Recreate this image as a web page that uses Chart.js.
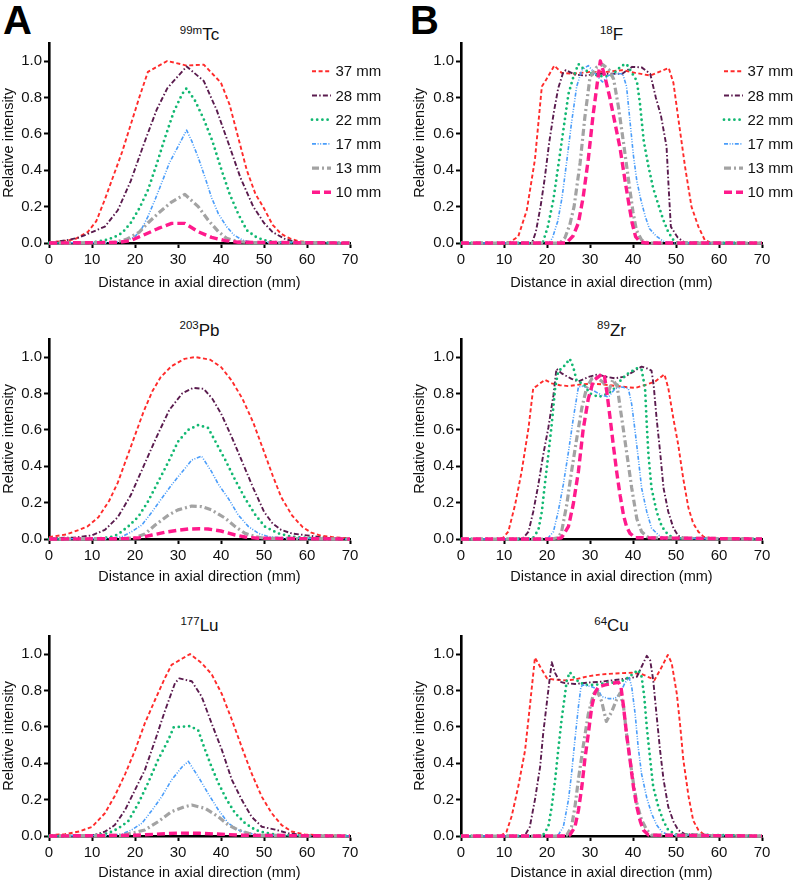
<!DOCTYPE html>
<html>
<head>
<meta charset="utf-8">
<script src="https://cdn.jsdelivr.net/npm/chart.js@4.4.1/dist/chart.umd.min.js"></script>
<style>
  body { margin: 0; background: #fff; width: 796px; height: 884px; position: relative; overflow: hidden;
         font-family: "Liberation Sans", Arial, Helvetica, sans-serif; color: #111; }
  canvas { position: absolute; }
  .letter { position: absolute; font-weight: bold; font-size: 40px; line-height: 1; color: #000; }
  .ttl { position: absolute; font-size: 17px; line-height: 17px; text-align: center; width: 301px; white-space: nowrap; }
  .ttl sup { font-size: 11.5px; line-height: 0; vertical-align: baseline; position: relative; top: -6.5px; }
</style>
</head>
<body>
<div class="letter" style="left:3px;top:0px">A</div>
<div class="letter" style="left:410px;top:0px">B</div>
<div class="ttl" style="left:49px;top:26px"><sup>99m</sup>Tc</div>
<div class="ttl" style="left:461px;top:26px"><sup>18</sup>F</div>
<div class="ttl" style="left:49px;top:321.5px"><sup>203</sup>Pb</div>
<div class="ttl" style="left:461px;top:321.5px"><sup>89</sup>Zr</div>
<div class="ttl" style="left:49px;top:617px"><sup>177</sup>Lu</div>
<div class="ttl" style="left:461px;top:617px"><sup>64</sup>Cu</div>

<canvas id="cTc" width="396" height="290" style="left:0;top:0"></canvas>
<canvas id="cF" width="400" height="290" style="left:396px;top:0"></canvas>
<canvas id="cPb" width="396" height="295" style="left:0;top:290px"></canvas>
<canvas id="cZr" width="400" height="295" style="left:396px;top:290px"></canvas>
<canvas id="cLu" width="396" height="299" style="left:0;top:585px"></canvas>
<canvas id="cCu" width="400" height="299" style="left:396px;top:585px"></canvas>

<script>
// axis ranges and labels
const xMin = 0, xMax = 70, xStep = 10;
const yMin = 0, yMax = 1.1, yStep = 0.2;
const sizeLabels = ['37 mm', '28 mm', '22 mm', '17 mm', '13 mm', '10 mm'];
const xTitle = 'Distance in axial direction (mm)';
const yTitle = 'Relative intensity';

// 99mTc  [distance, intensity]
const tc37 = [[0,0.003],[3,0.01],[6,0.02],[9,0.06],[11,0.12],[13,0.24],[15,0.37],[17,0.5],[19,0.65],[21,0.8],[23,0.94],[27.5,1.0],[32,0.975],[36,0.98],[40,0.88],[42,0.76],[44,0.58],[46,0.4],[48,0.27],[50,0.19],[52,0.1],[54,0.05],[56,0.025],[58,0.01],[60,0.005],[63,0.002],[70,0]];
const tc28 = [[0,0],[4,0.015],[7,0.03],[10,0.06],[13,0.09],[16,0.18],[19,0.34],[22,0.54],[25,0.73],[27.5,0.85],[32,0.97],[36,0.89],[39,0.73],[42,0.53],[44.5,0.36],[47.5,0.2],[50,0.11],[52,0.06],[55,0.02],[58,0.005],[70,0]];
const tc22 = [[0,0],[10,0.003],[13,0.015],[15,0.03],[17,0.055],[19,0.11],[21,0.19],[23,0.29],[25,0.43],[27,0.58],[29,0.72],[31,0.82],[32,0.85],[34,0.78],[36,0.68],[38,0.56],[40,0.41],[42,0.27],[44,0.16],[46,0.07],[48,0.035],[50,0.015],[53,0.004],[70,0]];
const tc17 = [[0,0],[15,0.003],[18,0.013],[20,0.035],[21.6,0.08],[23,0.145],[24.7,0.24],[26.2,0.33],[28,0.44],[30,0.53],[32,0.62],[33.2,0.56],[34.7,0.47],[36.3,0.36],[37.8,0.25],[39.4,0.16],[41.3,0.09],[43,0.044],[45,0.016],[47,0.005],[70,0]];
const tc13 = [[0,0],[15,0.003],[18,0.02],[21,0.06],[23,0.11],[25.5,0.165],[28.5,0.225],[31.6,0.267],[34.7,0.2],[37,0.126],[39.4,0.062],[41.3,0.026],[44,0.007],[47,0.002],[70,0]];
const tc10 = [[0,0],[16,0.003],[19,0.013],[22,0.044],[25.4,0.08],[28.5,0.108],[31.6,0.108],[34.7,0.062],[37.8,0.031],[41,0.013],[44,0.004],[70,0]];

// 203Pb
const pb37 = [[0,0.01],[4,0.025],[7,0.05],[9,0.07],[11.5,0.12],[14,0.21],[16,0.31],[18,0.44],[20,0.57],[22,0.7],[24,0.81],[26,0.89],[28.5,0.95],[31.5,0.99],[34,1.0],[37.5,0.985],[40,0.945],[42.5,0.87],[45,0.77],[47.5,0.64],[50,0.48],[52,0.35],[54,0.23],[56.5,0.13],[59,0.065],[61,0.035],[63,0.02],[66,0.01],[70,0.003]];
const pb28 = [[0,0.004],[6,0.008],[10,0.02],[13,0.05],[16,0.12],[19,0.24],[22,0.4],[25,0.56],[28,0.71],[31,0.8],[33.5,0.83],[36,0.825],[38,0.77],[40,0.69],[42.5,0.56],[45,0.42],[47.5,0.28],[50,0.15],[52,0.085],[54,0.05],[56.5,0.03],[60,0.02],[63,0.01],[66,0.004],[70,0]];
const pb22 = [[0,0],[10,0.002],[14,0.008],[16,0.025],[18.4,0.068],[20.8,0.123],[23,0.205],[25.4,0.315],[27.8,0.425],[30,0.535],[32.4,0.6],[34.7,0.626],[37,0.61],[38.6,0.54],[41,0.434],[43.3,0.324],[45.6,0.223],[48,0.132],[50.2,0.068],[53.3,0.031],[56.4,0.013],[60,0.006],[64,0.003],[70,0]];
const pb17 = [[0,0],[14,0.003],[17,0.013],[19.2,0.04],[21.6,0.077],[24,0.15],[26.2,0.223],[28.5,0.297],[31,0.37],[33.2,0.434],[35.5,0.455],[37.8,0.37],[39.4,0.3],[41.7,0.223],[44,0.132],[46.4,0.068],[48.7,0.031],[51,0.013],[55,0.004],[70,0]];
const pb13 = [[0,0],[18,0.003],[20,0.007],[22.3,0.027],[24.7,0.077],[27.8,0.132],[30,0.16],[33.2,0.181],[35.5,0.178],[37.8,0.16],[41,0.114],[43.3,0.068],[45.6,0.031],[48,0.013],[50.2,0.004],[70,0]];
const pb10 = [[0,0],[18,0.002],[21,0.007],[24,0.022],[27,0.037],[30,0.048],[32.4,0.055],[35,0.056],[37,0.055],[40,0.044],[43.3,0.022],[45.6,0.011],[48.7,0.004],[70,0]];

// 177Lu
const lu37 = [[0,0.004],[3.7,0.01],[7,0.025],[10,0.05],[13,0.125],[15.3,0.22],[17.7,0.34],[20,0.47],[22.3,0.62],[24.7,0.75],[27,0.87],[28.5,0.94],[31,0.975],[32.8,1.0],[35.5,0.95],[37.8,0.89],[40.2,0.78],[42.5,0.64],[44.8,0.49],[47.1,0.345],[49.5,0.215],[51.8,0.125],[54.1,0.06],[56.4,0.025],[59.5,0.008],[63,0.005],[70,0]];
const lu28 = [[0,0],[7,0.003],[10.7,0.006],[13,0.024],[15.3,0.06],[17.7,0.143],[20,0.253],[22.3,0.363],[24.7,0.527],[27,0.69],[29.3,0.84],[30.3,0.866],[33.2,0.85],[35.5,0.766],[37.8,0.62],[40.2,0.473],[42.5,0.31],[44.8,0.2],[47.1,0.106],[49.5,0.051],[52.6,0.035],[55.7,0.015],[59.5,0.004],[70,0]];
const lu22 = [[0,0],[10,0.002],[13.8,0.015],[16,0.04],[18.4,0.08],[20.8,0.18],[23,0.29],[25.4,0.42],[27.8,0.53],[29,0.597],[32.8,0.604],[34.7,0.58],[36.3,0.473],[37.8,0.38],[39.4,0.29],[41.3,0.2],[43.3,0.125],[45.6,0.07],[48,0.033],[50.2,0.018],[53.3,0.005],[70,0]];
const lu17 = [[0,0],[14,0.003],[17,0.011],[19.2,0.033],[21.6,0.07],[24,0.143],[26.2,0.216],[28.5,0.308],[31,0.381],[32.4,0.41],[34.7,0.326],[37,0.234],[39.4,0.143],[41.7,0.07],[44,0.033],[46.4,0.015],[49.5,0.004],[70,0]];
const lu13 = [[0,0],[17,0.004],[19.2,0.015],[22.3,0.033],[25.4,0.079],[28.5,0.134],[31.6,0.161],[33.2,0.17],[36.3,0.152],[39.4,0.106],[41.7,0.06],[44,0.033],[46.4,0.015],[48.7,0.004],[70,0]];
const lu10 = [[0,0],[20,0.004],[25,0.01],[30,0.016],[35,0.015],[40,0.01],[45,0.004],[70,0]];

// 18F
const f37 = [[0,0],[10,0],[11.4,0.005],[13.3,0.035],[15.3,0.18],[17.2,0.46],[18.8,0.86],[19.5,0.885],[21.7,0.975],[23.4,0.935],[26,0.93],[30,0.94],[34,0.94],[37.5,0.95],[40.5,0.935],[44,0.92],[48.3,0.962],[49.4,0.88],[50.5,0.69],[52.1,0.42],[53.6,0.2],[55.2,0.09],[56.7,0.016],[58.3,0],[70,0]];
const f28 = [[0,0],[16.5,0],[17.4,0.06],[18.5,0.2],[19.5,0.36],[20.5,0.55],[21.6,0.72],[22.6,0.85],[23.8,0.94],[24.4,0.95],[26.5,0.925],[29,0.92],[32,0.93],[35,0.93],[37.5,0.93],[39.8,0.968],[42,0.965],[44,0.93],[45.3,0.8],[46.5,0.7],[47.8,0.53],[48.3,0.3],[48.8,0.09],[50.4,0.03],[52,0.003],[70,0]];
const f22 = [[0,0],[19,0],[20.2,0.09],[21.5,0.24],[22.6,0.42],[23.8,0.62],[25,0.82],[26.1,0.91],[27.3,0.983],[28.8,0.95],[31,0.925],[33,0.915],[35,0.92],[37.4,0.975],[38.5,0.983],[40.9,0.89],[41.6,0.77],[42.5,0.56],[43.6,0.42],[44.7,0.3],[45.9,0.21],[47,0.13],[48.2,0.06],[49.4,0.016],[50.5,0],[70,0]];
const f17 = [[0,0],[20.5,0],[21.3,0.03],[22.5,0.12],[23.5,0.25],[24.6,0.45],[25.7,0.66],[26.9,0.86],[28.1,0.95],[29.6,0.975],[31.2,0.93],[32.9,0.885],[34.3,0.92],[36,0.93],[37.6,0.93],[38.5,0.86],[39.3,0.67],[40.1,0.48],[40.9,0.34],[41.8,0.24],[42.8,0.15],[43.8,0.08],[45.3,0.04],[47,0.01],[49,0],[70,0]];
const f13 = [[0,0],[23,0],[24.2,0.03],[25.3,0.1],[26.3,0.2],[27.7,0.44],[28.8,0.69],[30,0.91],[31.5,0.965],[33,0.98],[34.5,0.95],[35.5,0.9],[36.6,0.75],[37.8,0.55],[39,0.34],[40,0.17],[40.8,0.07],[42,0.016],[43.6,0],[70,0]];
const f10 = [[0,0],[24.5,0],[26.1,0.04],[27.3,0.11],[28.4,0.25],[29.6,0.46],[30.7,0.7],[31.7,0.88],[32.4,1.0],[33.4,0.92],[34.6,0.8],[35.8,0.66],[37,0.52],[38.1,0.35],[39,0.22],[39.8,0.11],[40.6,0.035],[41.6,0.007],[43,0],[70,0]];

// 89Zr
const zr37 = [[0,0],[8,0],[9.8,0.007],[11,0.04],[12.6,0.19],[14.1,0.37],[15.7,0.61],[16.8,0.83],[17.6,0.84],[19.5,0.875],[21.1,0.855],[23,0.845],[25,0.84],[28,0.85],[31.2,0.853],[34.3,0.846],[37.4,0.837],[40.5,0.83],[42.8,0.846],[45.1,0.864],[47.3,0.905],[48.2,0.83],[49.4,0.66],[50.5,0.52],[51.7,0.33],[52.9,0.17],[54,0.086],[55.2,0.04],[56.4,0.013],[58.3,0.004],[70,0]];
const zr28 = [[0,0],[13,0],[14.5,0.007],[15.7,0.04],[16.8,0.15],[18,0.3],[19.1,0.46],[20.3,0.61],[21.5,0.79],[22.2,0.935],[23.4,0.91],[25.7,0.88],[27.3,0.865],[29.6,0.89],[31.9,0.905],[33.5,0.892],[35.8,0.883],[38.1,0.892],[40.1,0.92],[42,0.947],[43.2,0.938],[44.3,0.925],[44.8,0.846],[45.5,0.66],[46.3,0.48],[47.1,0.28],[48.2,0.15],[49.4,0.06],[50.5,0.018],[52.1,0.004],[70,0]];
const zr22 = [[0,0],[15,0],[16.8,0.007],[18,0.05],[18.8,0.15],[19.5,0.3],[20.3,0.46],[21.1,0.63],[21.9,0.83],[22.6,0.92],[24.2,0.955],[25.3,0.99],[26.1,0.945],[26.9,0.87],[28.5,0.85],[30,0.8],[32,0.78],[34.3,0.8],[35.8,0.83],[37.4,0.88],[38.9,0.91],[40.9,0.938],[42,0.93],[42.8,0.83],[43.2,0.63],[43.6,0.46],[44.3,0.28],[45.5,0.15],[46.7,0.068],[48.2,0.022],[49.8,0.004],[70,0]];
const zr17 = [[0,0],[19,0],[20.3,0.007],[21.5,0.04],[22.6,0.15],[23.8,0.3],[25,0.48],[26.1,0.66],[27.3,0.835],[28.1,0.84],[29.6,0.83],[31.2,0.81],[32.7,0.79],[34.3,0.78],[35.8,0.825],[37.4,0.835],[38.9,0.828],[39.7,0.74],[40.5,0.59],[41.3,0.43],[42,0.28],[43.2,0.15],[44.3,0.06],[45.9,0.022],[47.4,0.004],[70,0]];
const zr13 = [[0,0],[21,0],[22.6,0.007],[23.4,0.04],[24.6,0.19],[25.7,0.37],[26.9,0.55],[28.1,0.72],[29.2,0.83],[30.4,0.88],[31.5,0.89],[33.1,0.86],[34.3,0.81],[35.3,0.875],[36.3,0.84],[37.4,0.66],[38.5,0.48],[39.7,0.28],[40.9,0.11],[42,0.04],[43.6,0.007],[70,0]];
const zr10 = [[0,0],[22,0],[23.4,0.007],[25,0.07],[26.1,0.19],[27.3,0.37],[28.4,0.6],[29.6,0.77],[30.8,0.87],[32.7,0.905],[33.3,0.905],[33.9,0.81],[34.7,0.66],[35.4,0.52],[36.2,0.37],[37,0.24],[37.8,0.13],[38.5,0.068],[39.3,0.031],[40.5,0.007],[70,0]];

// 64Cu
const cu37 = [[0,0],[9,0],[9.5,0.005],[10.6,0.024],[11.8,0.11],[13.3,0.27],[14.9,0.47],[16,0.71],[17.2,0.98],[18.4,0.93],[20,0.866],[21.5,0.86],[24.2,0.855],[26.5,0.86],[29.6,0.878],[32.7,0.888],[35.8,0.893],[39.7,0.897],[42,0.89],[44.3,0.866],[45,0.857],[46.7,0.93],[48.1,0.995],[49,0.95],[50.2,0.78],[51,0.6],[51.7,0.42],[52.9,0.22],[54,0.085],[55.2,0.033],[56.7,0.005],[70,0]];
const cu28 = [[0,0],[14,0],[14.9,0.005],[16,0.05],[17.2,0.2],[18.4,0.38],[19.1,0.56],[20.2,0.78],[21.1,0.955],[21.9,0.895],[23,0.848],[24.2,0.84],[26.5,0.835],[29.6,0.843],[32.7,0.848],[35.8,0.857],[38.9,0.866],[40.9,0.875],[42,0.93],[43.2,0.99],[44,0.965],[44.7,0.857],[45.5,0.66],[46.3,0.47],[47.1,0.31],[48.2,0.16],[49.4,0.08],[50.5,0.033],[52.1,0.009],[70,0]];
const cu22 = [[0,0],[18,0],[19.1,0.005],[20.3,0.05],[21.1,0.16],[21.9,0.31],[22.6,0.47],[23.4,0.64],[24.2,0.78],[24.6,0.855],[25.3,0.9],[26.1,0.875],[27.3,0.848],[28.8,0.83],[31.2,0.83],[33.5,0.84],[35.8,0.843],[38.1,0.857],[39.7,0.885],[41.2,0.912],[42,0.875],[42.6,0.77],[43.2,0.6],[44,0.42],[44.7,0.27],[45.9,0.16],[47.1,0.08],[48.2,0.033],[49.8,0.009],[70,0]];
const cu17 = [[0,0],[21.5,0],[22.6,0.005],[23.8,0.05],[25,0.2],[25.7,0.34],[26.5,0.53],[27.3,0.71],[27.9,0.82],[28.4,0.83],[30.4,0.82],[31.9,0.805],[32.7,0.766],[34.3,0.755],[35.8,0.755],[37,0.784],[38.1,0.84],[39.1,0.87],[39.7,0.82],[40.5,0.67],[41.2,0.49],[42,0.34],[43.2,0.21],[44.3,0.125],[45.5,0.06],[46.7,0.024],[48.2,0.005],[70,0]];
const cu13 = [[0,0],[23.5,0],[24.6,0.005],[25.7,0.05],[26.5,0.16],[27.3,0.31],[28.4,0.49],[29.6,0.67],[30.8,0.78],[31.6,0.8],[32.7,0.74],[33.8,0.63],[35,0.68],[36.2,0.75],[37,0.785],[37.8,0.71],[38.5,0.56],[39.3,0.42],[40.1,0.29],[40.9,0.18],[42,0.088],[43.2,0.033],[44.3,0.005],[70,0]];
const cu10 = [[0,0],[24.5,0],[25.3,0.005],[26.5,0.05],[27.3,0.14],[28.1,0.27],[28.8,0.42],[29.6,0.56],[30.4,0.71],[31.2,0.79],[32,0.82],[33.5,0.83],[35,0.838],[36.6,0.845],[37.2,0.82],[37.8,0.71],[38.5,0.56],[39.3,0.42],[40.1,0.27],[40.9,0.16],[41.7,0.08],[42.4,0.033],[43.6,0.005],[70,0]];

// line looks, same order as sizeLabels
const styles = [
  { color: '#ff2b2b', width: 1.9, dash: [4, 2.6], cap: 'butt' },
  { color: '#5a1b4e', width: 1.9, dash: [5, 2.2, 1.5, 2.2], cap: 'butt' },
  { color: '#12b872', width: 2.8, dash: [0, 5.2], cap: 'round' },
  { color: '#4a9dfa', width: 1.6, dash: [4, 1.6, 1, 1.6, 1, 1.6], cap: 'butt' },
  { color: '#a3a3a3', width: 3.2, dash: [7, 3, 2, 3], cap: 'butt' },
  { color: '#ff1a8c', width: 3.4, dash: [8, 4], cap: 'butt' }
];

Chart.defaults.font.family = '"Liberation Sans", Arial, Helvetica, sans-serif';
Chart.defaults.color = '#111';

// legend drawn inside the plot, top right
const innerLegend = {
  id: 'innerLegend',
  afterDraw(chart, args, opts) {
    if (!opts.show) return;
    const { ctx, chartArea } = chart;
    ctx.save();
    chart.data.datasets.forEach((ds, i) => {
      const y = chartArea.top + 28.5 + i * 24.2;
      const x0 = chartArea.right - 38;
      ctx.beginPath();
      ctx.strokeStyle = ds.borderColor;
      ctx.lineWidth = ds.borderWidth;
      ctx.lineCap = ds.borderCapStyle;
      ctx.setLineDash(ds.borderDash);
      ctx.moveTo(x0, y);
      ctx.lineTo(x0 + 19, y);
      ctx.stroke();
      ctx.setLineDash([]);
      ctx.fillStyle = '#111';
      ctx.font = '15px "Liberation Sans", Arial, sans-serif';
      ctx.textBaseline = 'middle';
      ctx.fillText(ds.label, x0 + 23.5, y + 1);
    });
    ctx.restore();
  }
};

// canvas-relative geometry per row
const rows = [
  { chartTop: 42.8, chartBottom: 243, xTitleY: 283 },
  { chartTop: 48.8, chartBottom: 249, xTitleY: 286.7 },
  { chartTop: 50.8, chartBottom: 251, xTitleY: 288.3 }
];
const cols = [
  { yAxisW: 49, chartRight: 350, yTitlePad: 1.7 },
  { yAxisW: 65, chartRight: 366, yTitlePad: 16.7 }
];

function makeChart(id, series, row, col, legend) {
  const canvas = document.getElementById(id);
  const r = rows[row], c = cols[col];
  const H = canvas.height, W = canvas.width;
  const datasets = series.map((pts, i) => ({
    label: sizeLabels[i],
    data: pts.map(([x, y]) => ({ x, y })),
    borderColor: styles[i].color,
    borderWidth: styles[i].width,
    borderDash: styles[i].dash,
    borderCapStyle: styles[i].cap,
    borderJoinStyle: 'round',
    pointRadius: 0,
    fill: false,
    tension: 0,
    clip: 6,
    order: -i
  }));
  return new Chart(canvas.getContext('2d'), {
    type: 'line',
    data: { datasets },
    plugins: [innerLegend],
    options: {
      responsive: false,
      animation: false,
      events: [],
      layout: { padding: { left: 0, top: r.chartTop, right: W - c.chartRight, bottom: 0 } },
      plugins: {
        legend: { display: false },
        tooltip: { enabled: false },
        innerLegend: { show: legend }
      },
      scales: {
        x: {
          type: 'linear', min: xMin, max: xMax,
          ticks: { stepSize: xStep, padding: 3, font: { size: 15 }, color: '#111', maxRotation: 0 },
          grid: { drawOnChartArea: false, drawTicks: true, tickLength: 5, tickWidth: 2, tickColor: '#000' },
          border: { display: true, color: '#000', width: 2.6 },
          title: { display: true, text: xTitle, font: { size: 14.5, lineHeight: 1 }, color: '#111',
                   padding: { top: 0, bottom: H - r.xTitleY - 7.25 } },
          afterFit: (s) => { s.height = H - r.chartBottom; }
        },
        y: {
          type: 'linear', min: yMin, max: yMax,
          ticks: { stepSize: yStep, includeBounds: false, padding: 2, font: { size: 15 }, color: '#111',
                   callback: (v) => v.toFixed(1) },
          grid: { drawOnChartArea: false, drawTicks: true, tickLength: 5, tickWidth: 2, tickColor: '#000' },
          border: { display: true, color: '#000', width: 2.6 },
          title: { display: true, text: yTitle, font: { size: 14.5, lineHeight: 1 }, color: '#111',
                   padding: { top: c.yTitlePad, bottom: 0 } },
          afterFit: (s) => { s.width = c.yAxisW; }
        }
      }
    }
  });
}

makeChart('cTc', [tc37, tc28, tc22, tc17, tc13, tc10], 0, 0, true);
makeChart('cF', [f37, f28, f22, f17, f13, f10], 0, 1, true);
makeChart('cPb', [pb37, pb28, pb22, pb17, pb13, pb10], 1, 0, false);
makeChart('cZr', [zr37, zr28, zr22, zr17, zr13, zr10], 1, 1, false);
makeChart('cLu', [lu37, lu28, lu22, lu17, lu13, lu10], 2, 0, false);
makeChart('cCu', [cu37, cu28, cu22, cu17, cu13, cu10], 2, 1, false);
</script>
</body>
</html>
